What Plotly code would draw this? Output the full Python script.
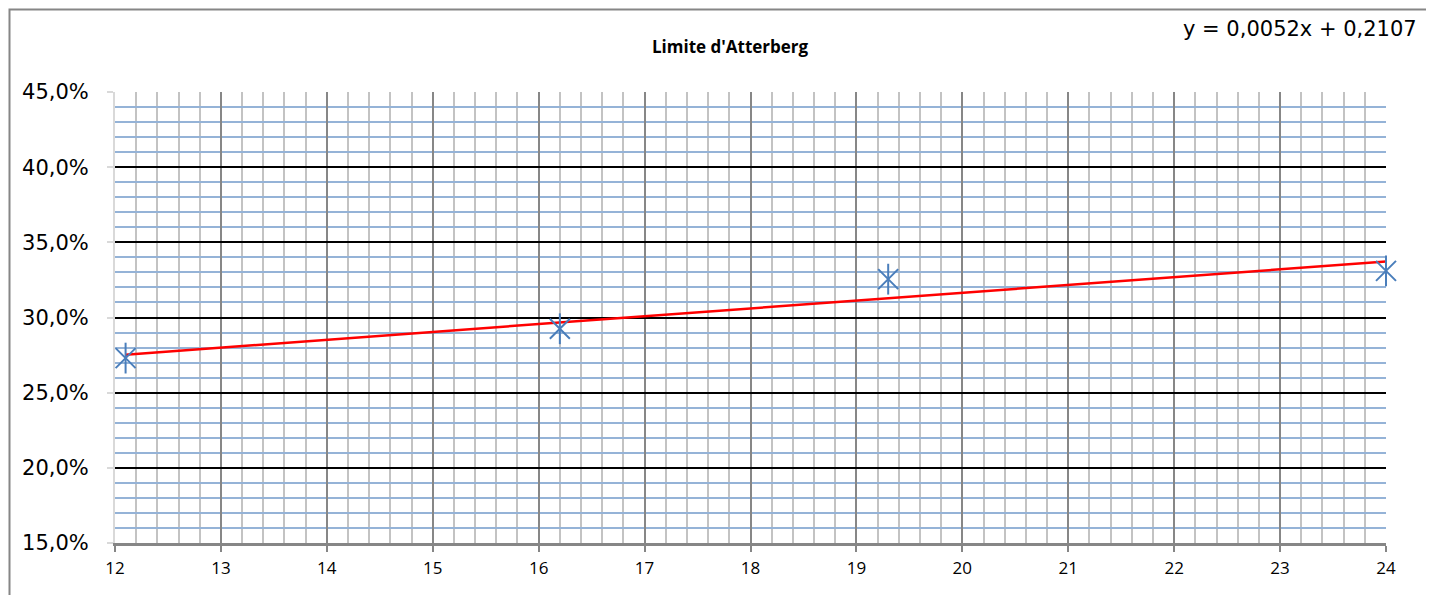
import numpy as np
import plotly.graph_objects as go

# Data
x_vals = [12.1, 16.2, 19.3, 24.0]
y_vals = [0.273, 0.2925, 0.3255, 0.331]
x_ticks = list(range(12, 25))
y_ticks = [0.15, 0.20, 0.25, 0.30, 0.35, 0.40, 0.45]
title_text = "Limite d'Atterberg"
equation_text = "y = 0,0052x + 0,2107"

# Linear trendline derived from data
slope, intercept = np.polyfit(x_vals, y_vals, 1)
trend_x = [min(x_vals), max(x_vals)]
trend_y = [slope * v + intercept for v in trend_x]

W, H = 1434, 595
OFF = 8  # page body margin
L, R, T, B = 115, 1386, 92, 543

fig = go.Figure()
fig.add_trace(go.Scatter(x=trend_x, y=trend_y, mode="lines",
                         line=dict(color="#ff0000", width=2.5),
                         hoverinfo="skip", showlegend=False, cliponaxis=False))
fig.add_trace(go.Scatter(x=x_vals, y=y_vals, mode="markers",
                         marker=dict(symbol="x-thin-open", size=20, color="#4a7ebb",
                                     line=dict(color="#4a7ebb", width=2)),
                         showlegend=False, cliponaxis=False))
fig.add_trace(go.Scatter(x=x_vals, y=y_vals, mode="markers",
                         marker=dict(symbol="line-ns-open", size=22, color="#4a7ebb",
                                     line=dict(color="#4a7ebb", width=2)),
                         showlegend=False, cliponaxis=False))

font_family = "Open Sans, DejaVu Sans, sans-serif"
wide_font = "DejaVu Sans, sans-serif"

def px_x(p):
    return (p - L) / (R - L)

def px_y(p):
    return (B - p) / (B - T)

fig.update_layout(
    width=W - OFF, height=H - OFF,
    margin=dict(l=L - OFF, r=W - R, t=T - OFF, b=H - B, pad=0),
    paper_bgcolor="white", plot_bgcolor="white",
    separators=", ",
    font=dict(family=font_family, color="black"),
    xaxis=dict(
        range=[12, 24], tickvals=x_ticks, ticktext=[str(v) for v in x_ticks],
        showgrid=True, gridcolor="#878787", gridwidth=2,
        minor=dict(dtick=0.2, tick0=12, showgrid=True, gridcolor="#c3c3c3", gridwidth=2, ticks=""),
        showline=True, linecolor="#868686", linewidth=3,
        ticks="outside", ticklen=6, tickcolor="#868686", tickwidth=2,
        tickfont=dict(size=17, family=font_family),
        ticklabelstandoff=2,
        zeroline=False, fixedrange=True,
    ),
    yaxis=dict(
        range=[0.15, 0.45], tickvals=y_ticks, tickformat=".1%",
        showgrid=True, gridcolor="#000000", gridwidth=2,
        minor=dict(dtick=0.01, tick0=0.15, showgrid=True, gridcolor="#95b3d7", gridwidth=2, ticks=""),
        showline=True, linecolor="#d9d9d9", linewidth=2,
        ticks="outside", ticklen=6, tickcolor="#d9d9d9", tickwidth=2,
        tickfont=dict(size=21, family=wide_font),
        ticklabelstandoff=14,
        zeroline=False, fixedrange=True,
    ),
    annotations=[
        dict(text="<b>" + title_text + "</b>", xref="paper", yref="paper",
             x=px_x(730), y=px_y(47),
             xanchor="center", yanchor="middle", showarrow=False,
             font=dict(size=17, family=font_family, color="black")),
        dict(text=equation_text, xref="paper", yref="paper",
             x=px_x(1419), y=px_y(29),
             xanchor="right", yanchor="middle", showarrow=False,
             font=dict(size=21, family=wide_font, color="black")),
    ],
    shapes=[
        dict(type="rect", xref="paper", yref="paper", layer="below",
             x0=px_x(9.5), x1=px_x(1427),
             y0=px_y(640), y1=px_y(9.5),
             line=dict(color="#868686", width=2), fillcolor="rgba(0,0,0,0)"),
    ],
)

fig.write_html("out.html")
